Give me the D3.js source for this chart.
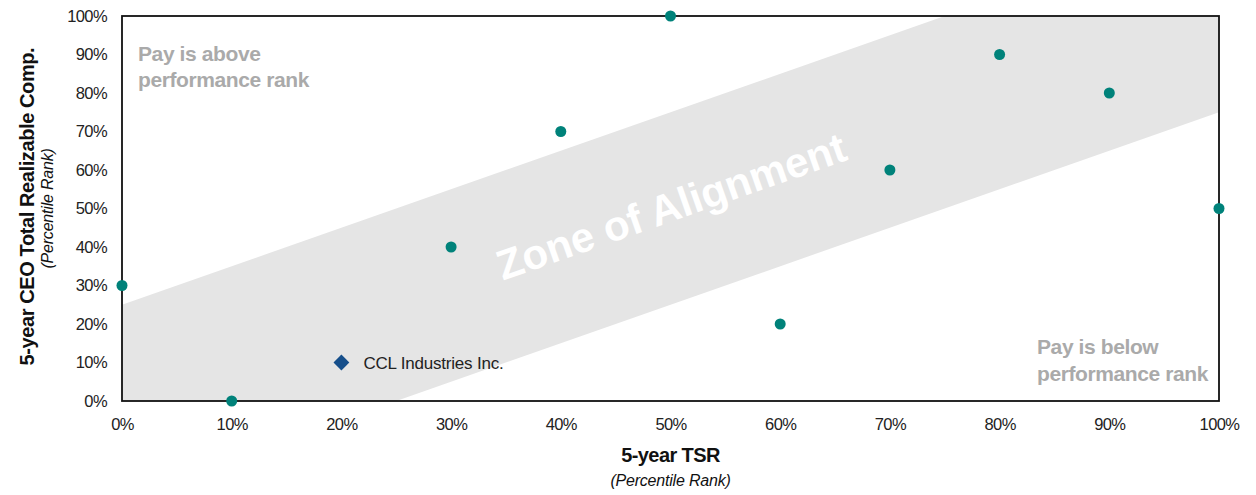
<!DOCTYPE html>
<html>
<head>
<meta charset="utf-8">
<script src="https://cdn.jsdelivr.net/npm/d3@7"></script>
<style>
  body { margin: 0; background: #fff; }
  text { font-family: "Liberation Sans", Arial, sans-serif; }
</style>
</head>
<body>
<div id="chart"></div>
<script>
// peer companies: TSR percentile vs pay percentile
const peerTSR = [0, 10, 30, 40, 50, 60, 70, 80, 90, 100];
const peerPay = [30, 0, 40, 70, 100, 20, 60, 90, 80, 50];
const companyName = "CCL Industries Inc.";
const companyTSR = [20];
const companyPay = [10];
const tickValues = [0, 10, 20, 30, 40, 50, 60, 70, 80, 90, 100];
// zone of alignment band: +/- 25 points around the diagonal
const zoneX = [0, 25, 100, 100, 75, 0];
const zoneY = [0, 0, 75, 100, 100, 25];

const width = 1256, height = 495;
const margin = { left: 122, right: 37, top: 16, bottom: 94 };

const svg = d3.select('#chart').append('svg')
  .attr('width', width)
  .attr('height', height);

const x = d3.scaleLinear().domain([0, 100]).range([margin.left, width - margin.right]);
const y = d3.scaleLinear().domain([0, 100]).range([height - margin.bottom, margin.top]);

// zone band
svg.append('path')
  .datum(zoneX.map((d, i) => [d, zoneY[i]]))
  .attr('d', d3.line().x(d => x(d[0])).y(d => y(d[1])))
  .attr('fill', '#e5e5e5');

// zone label, rotated along the band
const angle = Math.atan2(y(0) - y(100), x(100) - x(0)) * 180 / Math.PI;
svg.append('text')
  .attr('transform', `translate(${x(50.5)},${y(47)}) rotate(${-angle})`)
  .attr('text-anchor', 'middle')
  .attr('font-family', '"Open Sans", sans-serif')
  .attr('font-weight', 'bold')
  .attr('font-size', 42)
  .attr('fill', '#fff')
  .text('Zone of Alignment');

// quadrant notes
const noteStyle = t => t.attr('fill', '#aaaaaa').attr('font-weight', 'bold')
  .attr('font-size', 21).attr('letter-spacing', -0.4);
svg.append('text').attr('x', 138).attr('y', 61).text('Pay is above').call(noteStyle);
svg.append('text').attr('x', 138).attr('y', 87).text('performance rank').call(noteStyle);
svg.append('text').attr('x', 1037).attr('y', 354).text('Pay is below').call(noteStyle);
svg.append('text').attr('x', 1037).attr('y', 381).text('performance rank').call(noteStyle);

// axes
const fmt = d => d + '%';
const xAxis = svg.append('g')
  .attr('transform', `translate(0,${y(0)})`)
  .call(d3.axisBottom(x).tickValues(tickValues).tickFormat(fmt).tickSize(0).tickPadding(17));
const yAxis = svg.append('g')
  .attr('transform', `translate(${x(0)},0)`)
  .call(d3.axisLeft(y).tickValues(tickValues).tickFormat(fmt).tickSize(0).tickPadding(15));
[xAxis, yAxis].forEach(a => {
  a.select('.domain').remove();
  a.selectAll('text')
    .attr('font-family', '"Liberation Sans", Arial, sans-serif')
    .attr('font-size', 16.5)
    .attr('letter-spacing', -0.6)
    .attr('fill', '#222');
});

// frame
svg.append('rect')
  .attr('x', x(0)).attr('y', y(100))
  .attr('width', x(100) - x(0)).attr('height', y(0) - y(100))
  .attr('fill', 'none')
  .attr('stroke', '#111')
  .attr('stroke-width', 1.8);

// peer points
svg.append('g')
  .selectAll('circle')
  .data(peerTSR.map((d, i) => [d, peerPay[i]]))
  .enter().append('circle')
  .attr('cx', d => x(d[0]))
  .attr('cy', d => y(d[1]))
  .attr('r', 5.5)
  .attr('fill', '#00827a');

// company marker
svg.append('g')
  .selectAll('path')
  .data(companyTSR.map((d, i) => [d, companyPay[i]]))
  .enter().append('path')
  .attr('d', d3.symbol(d3.symbolDiamond2, 160))
  .attr('transform', d => `translate(${x(d[0])},${y(d[1])})`)
  .attr('fill', '#164f8b');
svg.append('text')
  .attr('x', x(companyTSR[0]) + 22)
  .attr('y', y(companyPay[0]) + 6)
  .attr('font-size', 17)
  .attr('letter-spacing', -0.2)
  .attr('fill', '#222')
  .text(companyName);

// axis titles
svg.append('text')
  .attr('x', x(50)).attr('y', 462)
  .attr('text-anchor', 'middle')
  .attr('font-weight', 'bold').attr('font-size', 20).attr('letter-spacing', -0.6)
  .attr('fill', '#111')
  .text('5-year TSR');
svg.append('text')
  .attr('x', x(50)).attr('y', 486)
  .attr('text-anchor', 'middle')
  .attr('font-style', 'italic').attr('font-size', 16).attr('letter-spacing', -0.2)
  .attr('fill', '#111')
  .text('(Percentile Rank)');
svg.append('text')
  .attr('transform', `translate(34,${y(50.5)}) rotate(-90)`)
  .attr('text-anchor', 'middle')
  .attr('font-weight', 'bold').attr('font-size', 20).attr('letter-spacing', -0.4)
  .attr('fill', '#111')
  .text('5-year CEO Total Realizable Comp.');
svg.append('text')
  .attr('transform', `translate(53,${y(50)}) rotate(-90)`)
  .attr('text-anchor', 'middle')
  .attr('font-style', 'italic').attr('font-size', 16).attr('letter-spacing', -0.2)
  .attr('fill', '#111')
  .text('(Percentile Rank)');
</script>
</body>
</html>
